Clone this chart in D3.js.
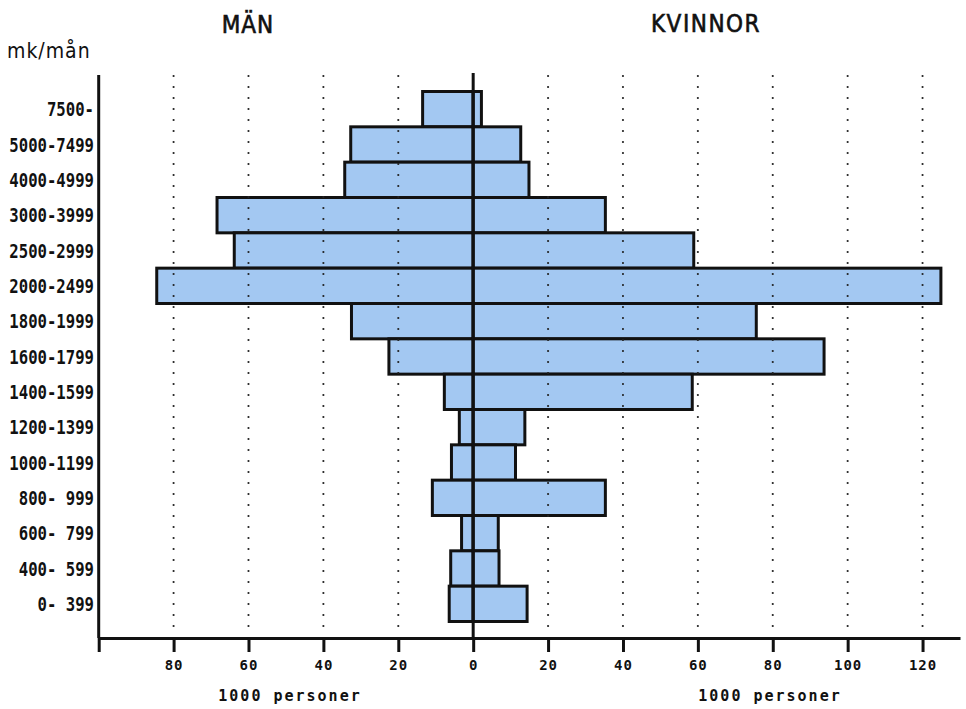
<!DOCTYPE html>
<html>
<head>
<meta charset="utf-8">
<script src="https://cdn.jsdelivr.net/npm/d3@7"></script>
<style>
  body { margin: 0; background: #fff; }
  svg { display: block; }
  .lbl { font-family: "DejaVu Sans Mono", monospace; font-weight: bold; fill: #111; }
  .ttl { font-family: "DejaVu Sans Condensed", "DejaVu Sans", sans-serif; fill: #111; }
</style>
</head>
<body>
<div id="chart"></div>
<script>
// income classes, mk/mån (top to bottom)
const classes = ["7500-", "5000-7499", "4000-4999", "3000-3999", "2500-2999", "2000-2499",
  "1800-1999", "1600-1799", "1400-1599", "1200-1399", "1000-1199", "800- 999",
  "600- 799", "400- 599", "0- 399"];

// 1000 personer
const men   = [13.5, 32.7, 34.3, 68.4, 63.8, 84.5, 32.5, 22.5, 7.7, 3.7, 5.8, 10.9, 3.1, 6.0, 6.4];
const women = [2.2, 12.7, 14.9, 35.3, 58.9, 124.9, 75.6, 93.7, 58.5, 13.8, 11.3, 35.3, 6.7, 6.9, 14.4];

const tickVals = [-100, -80, -60, -40, -20, 0, 20, 40, 60, 80, 100, 120];
const gridVals = [-80, -60, -40, -20, 20, 40, 60, 80, 100, 120];

const W = 966, H = 709;
const svg = d3.select("#chart").append("svg")
    .attr("width", W)
    .attr("height", H);

const x = d3.scaleLinear().domain([-100, 130]).range([98.7, 960]);
const y = d3.scaleBand().domain(classes).range([91.5, 621.5]).padding(0);
const axisY = 638;

const rows = classes.map((c, i) => ({ cls: c, men: men[i], women: women[i] }));

// bars
const bars = svg.append("g");
bars.selectAll(".m")
    .data(rows)
    .enter().append("rect")
    .attr("class", "m")
    .attr("x", d => x(-d.men))
    .attr("y", d => y(d.cls))
    .attr("width", d => x(0) - x(-d.men))
    .attr("height", y.bandwidth())
    .attr("fill", "#a3c8f2")
    .attr("stroke", "#111")
    .attr("stroke-width", 3);
bars.selectAll(".w")
    .data(rows)
    .enter().append("rect")
    .attr("class", "w")
    .attr("x", x(0))
    .attr("y", d => y(d.cls))
    .attr("width", d => x(d.women) - x(0))
    .attr("height", y.bandwidth())
    .attr("fill", "#a3c8f2")
    .attr("stroke", "#111")
    .attr("stroke-width", 3);

// dotted grid (drawn over the bars)
svg.append("g").selectAll("line")
    .data(gridVals)
    .enter().append("line")
    .attr("x1", d => x(d)).attr("x2", d => x(d))
    .attr("y1", 76).attr("y2", 630)
    .attr("stroke", "#222")
    .attr("stroke-width", 2.2)
    .attr("stroke-linecap", "round")
    .attr("stroke-dasharray", "0,11");

// bottom axis
const xAxis = d3.axisBottom(x)
    .tickValues(tickVals)
    .tickSizeInner(14)
    .tickSizeOuter(0)
    .tickPadding(8)
    .tickFormat(d => d === -100 ? "" : Math.abs(d));
const ax = svg.append("g")
    .attr("transform", `translate(0,${axisY})`)
    .call(xAxis);
ax.select(".domain").attr("stroke", "#111").attr("stroke-width", 3);
ax.selectAll(".tick line").attr("stroke", "#111").attr("stroke-width", 3);
ax.selectAll(".tick text")
    .attr("class", "lbl")
    .attr("font-size", 14)
    .attr("letter-spacing", 1)
    .attr("fill", "#111");

// left axis and zero line
svg.append("line")
    .attr("x1", x(-100)).attr("x2", x(-100))
    .attr("y1", 75).attr("y2", axisY)
    .attr("stroke", "#111").attr("stroke-width", 3);
svg.append("line")
    .attr("x1", x(0)).attr("x2", x(0))
    .attr("y1", 73).attr("y2", axisY)
    .attr("stroke", "#111").attr("stroke-width", 3);

// category labels (narrow and tall like the original lettering)
svg.append("g").selectAll("text")
    .data(classes)
    .enter().append("text")
    .attr("class", "lbl")
    .attr("transform", d => `translate(94,${y(d) + y.bandwidth() / 2}) scale(0.92,1.15)`)
    .attr("dy", "0.36em")
    .attr("text-anchor", "end")
    .attr("font-size", 17)
    .attr("xml:space", "preserve")
    .style("white-space", "pre")
    .text(d => d);

// titles
svg.append("text").attr("class", "ttl")
    .attr("x", 248).attr("y", 33)
    .attr("text-anchor", "middle")
    .attr("font-size", 24).attr("letter-spacing", 1)
    .attr("stroke", "#111").attr("stroke-width", 0.6)
    .text("MÄN");
svg.append("text").attr("class", "ttl")
    .attr("x", 706).attr("y", 32)
    .attr("text-anchor", "middle")
    .attr("font-size", 24).attr("letter-spacing", 1.5)
    .attr("stroke", "#111").attr("stroke-width", 0.6)
    .text("KVINNOR");
svg.append("text").attr("class", "ttl")
    .attr("x", 7).attr("y", 58)
    .attr("font-size", 21).attr("letter-spacing", 1)
    .text("mk/mån");

// unit labels
[290, 770].forEach(cx => {
  svg.append("text").attr("class", "lbl")
      .attr("x", cx).attr("y", 701)
      .attr("text-anchor", "middle")
      .attr("font-size", 15).attr("letter-spacing", 2)
      .text("1000 personer");
});
</script>
</body>
</html>
